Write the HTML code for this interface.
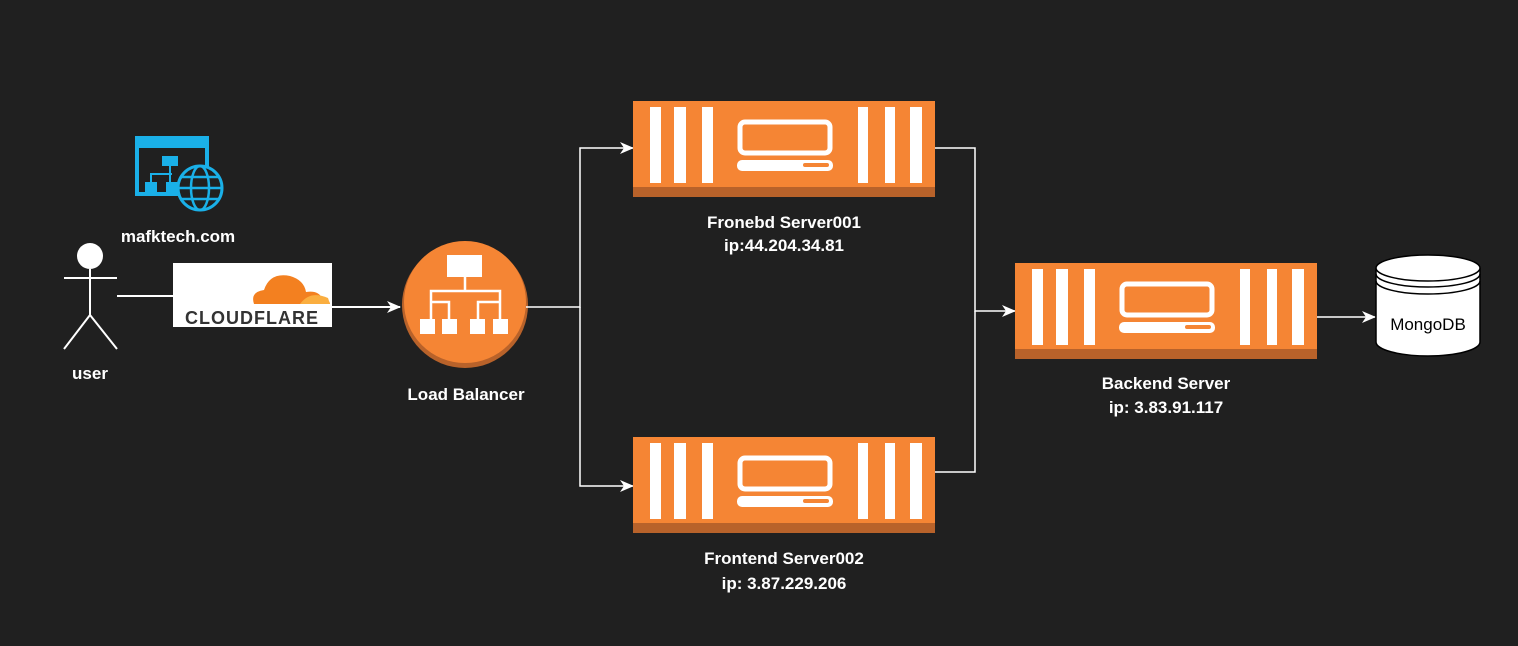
<!DOCTYPE html>
<html><head><meta charset="utf-8"><style>
html,body{margin:0;padding:0;background:#202020;}
svg{display:block}
text{font-family:"Liberation Sans",sans-serif;fill:#fff;font-weight:bold;font-size:17px;text-anchor:middle}
</style></head><body>
<svg width="1518" height="646" viewBox="0 0 1518 646">
<defs>
<g id="srv">
<rect x="0" y="0" width="302" height="96" fill="#f58534"/>
<rect x="0" y="86" width="302" height="10" fill="#b8622a"/>
<g fill="#fff">
<rect x="17" y="6" width="11" height="76"/><rect x="41" y="6" width="12" height="76"/><rect x="69" y="6" width="11" height="76"/>
<rect x="225" y="6" width="10" height="76"/><rect x="252" y="6" width="10" height="76"/><rect x="277" y="6" width="12" height="76"/>
</g>
<rect x="107" y="21" width="90" height="31" rx="5" fill="none" stroke="#fff" stroke-width="5"/>
<rect x="104" y="59" width="96" height="11" rx="5" fill="#fff"/>
<rect x="170" y="62" width="26" height="4" rx="2" fill="#f58534"/>
</g>
<marker id="ar" markerWidth="14" markerHeight="12" refX="13" refY="6" orient="auto" markerUnits="userSpaceOnUse">
<path d="M0,0 L14,6 L0,12 L4,6 Z" fill="#fff"/>
</marker>
</defs>

<!-- web icon -->
<rect x="137" y="138" width="70" height="56" fill="none" stroke="#1ab0e8" stroke-width="4"/>
<rect x="135" y="136" width="74" height="12" fill="#1ab0e8"/>
<g fill="#1ab0e8">
<rect x="162" y="156" width="16" height="10"/>
<rect x="145" y="182" width="12" height="10"/><rect x="166" y="182" width="12" height="10"/>
</g>
<path d="M170 166 V182 M151 182 V174 H172" stroke="#1ab0e8" stroke-width="2" fill="none"/>
<circle cx="200" cy="188" r="22" fill="#202020" stroke="#1ab0e8" stroke-width="3"/>
<ellipse cx="200" cy="188" rx="9" ry="22" fill="none" stroke="#1ab0e8" stroke-width="2.5"/>
<path d="M178 188 H222 M182 177 H218 M182 199 H218" stroke="#1ab0e8" stroke-width="2.5"/>
<text x="178" y="242">mafktech.com</text>

<!-- user -->
<circle cx="90" cy="256" r="13" fill="#fff"/>
<path d="M90 269 V315 M64 278 H117 M90 315 L64 349 M90 315 L117 349" stroke="#fff" stroke-width="2" fill="none"/>
<text x="90" y="379">user</text>

<!-- cloudflare -->
<rect x="173" y="263" width="159" height="64" fill="#fff"/>
<path d="M254 304 Q250 292 264 290 Q270 272 290 276 Q304 280 306 292 Q318 290 322 298 Q330 300 330 304 Z" fill="#f38020"/>
<path d="M300 304 Q310 290 328 298 L330 304 Z" fill="#faae40"/>
<text x="252" y="324" style="font-size:18px;fill:#333;font-weight:bold;letter-spacing:1px">CLOUDFLARE</text>
<line x1="117" y1="296" x2="205" y2="296" stroke="#fff" stroke-width="2" marker-end="url(#ar)"/>
<line x1="332" y1="307" x2="400" y2="307" stroke="#fff" stroke-width="2" marker-end="url(#ar)"/>

<!-- load balancer -->
<circle cx="465" cy="305" r="63" fill="#b8622a"/>
<circle cx="465" cy="302" r="61" fill="#f58534"/>
<g fill="#fff">
<rect x="447" y="255" width="35" height="22"/>
<rect x="420" y="319" width="15" height="15"/><rect x="442" y="319" width="15" height="15"/>
<rect x="470" y="319" width="15" height="15"/><rect x="493" y="319" width="15" height="15"/>
</g>
<path d="M465 277 V291 M431 302 V291 H500 V302 M431 302 H449 V319 M431 302 V319 M500 302 H478 V319 M500 302 V319" stroke="#fff" stroke-width="2.5" fill="none"/>
<text x="466" y="400">Load Balancer</text>

<!-- connectors -->
<path d="M526 307 H580 V148 H633" stroke="#fff" stroke-width="1.5" fill="none" marker-end="url(#ar)"/>
<path d="M580 307 V486 H633" stroke="#fff" stroke-width="1.5" fill="none" marker-end="url(#ar)"/>
<path d="M935 148 H975 V311 H1015" stroke="#fff" stroke-width="1.5" fill="none" marker-end="url(#ar)"/>
<path d="M935 472 H975 V311" stroke="#fff" stroke-width="1.5" fill="none"/>
<line x1="1316" y1="317" x2="1375" y2="317" stroke="#fff" stroke-width="1.5" marker-end="url(#ar)"/>

<!-- servers -->
<use href="#srv" x="633" y="101"/>
<use href="#srv" x="633" y="437"/>
<use href="#srv" x="1015" y="263"/>
<text x="784" y="228">Fronebd Server001</text>
<text x="784" y="251">ip:44.204.34.81</text>
<text x="784" y="564">Frontend Server002</text>
<text x="784" y="589">ip: 3.87.229.206</text>
<text x="1166" y="389">Backend Server</text>
<text x="1166" y="413">ip: 3.83.91.117</text>

<!-- mongodb -->
<path d="M1376 268 V342 A52 14 0 0 0 1480 342 V268" fill="#fff" stroke="#000" stroke-width="1.5"/>
<ellipse cx="1428" cy="268" rx="52" ry="13" fill="#fff" stroke="#000" stroke-width="1.5"/>
<path d="M1376 274 A52 13 0 0 0 1480 274 M1376 281 A52 13 0 0 0 1480 281" fill="none" stroke="#000" stroke-width="1.5"/>
<text x="1428" y="330" style="fill:#000;font-weight:normal;font-size:17px">MongoDB</text>
</svg>
</body></html>
